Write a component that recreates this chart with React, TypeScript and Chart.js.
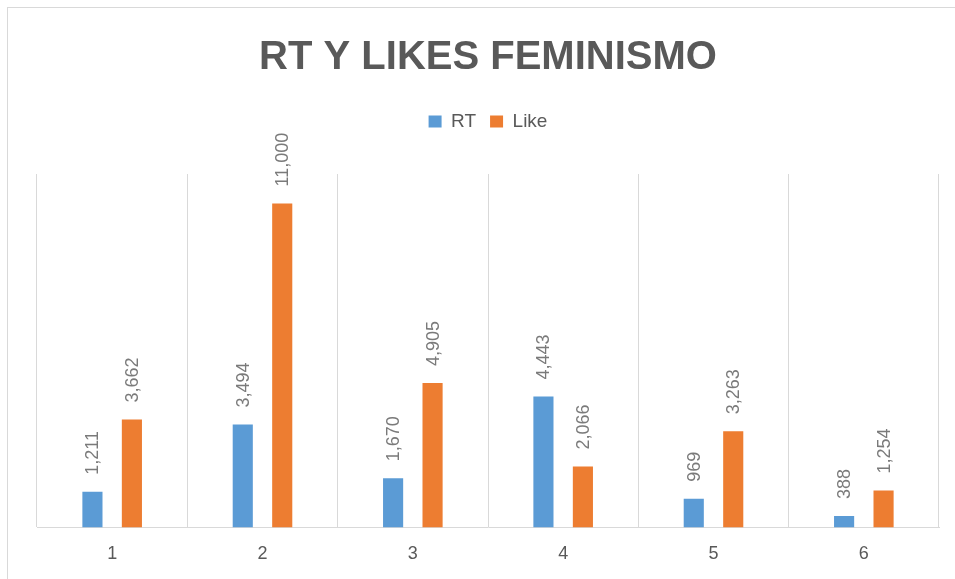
import React, { useEffect, useRef } from "react";
import { Chart, registerables } from "chart.js";

Chart.register(...registerables);

const categories = ["1", "2", "3", "4", "5", "6"];
const rtValues = [1211, 3494, 1670, 4443, 969, 388];
const likeValues = [3662, 11000, 4905, 2066, 3263, 1254];
const seriesNames = ["RT", "Like"];
const chartTitle = "RT Y LIKES FEMINISMO";

const W = 955;
const H = 579;
const LEGEND_GAP = 33;

const frameAndBg = {
  id: "frameAndBg",
  beforeDraw(chart: any) {
    const ctx = chart.ctx;
    ctx.save();
    ctx.fillStyle = "#ffffff";
    ctx.fillRect(0, 0, chart.width, chart.height);
    ctx.strokeStyle = "#d9d9d9";
    ctx.lineWidth = 1;
    ctx.strokeRect(7.5, 7.5, chart.width + 10, chart.height + 10);
    ctx.restore();
  },
};

const legendGap = {
  id: "legendGap",
  beforeInit(chart: any) {
    const legend = chart.legend;
    if (!legend) return;
    const origFit = legend.fit;
    legend.fit = function () {
      origFit.call(this);
      this.height += LEGEND_GAP;
    };
  },
};

const valueLabels = {
  id: "valueLabels",
  afterDatasetsDraw(chart: any) {
    const ctx = chart.ctx;
    ctx.save();
    ctx.font = "18px 'Liberation Sans', Arial, sans-serif";
    ctx.fillStyle = "#7a7a7a";
    ctx.textAlign = "left";
    ctx.textBaseline = "middle";
    chart.data.datasets.forEach((ds: any, di: number) => {
      const meta = chart.getDatasetMeta(di);
      meta.data.forEach((bar: any, i: number) => {
        const v = ds.data[i];
        const txt = v.toLocaleString("en-US");
        ctx.save();
        ctx.translate(bar.x + 1, bar.y - 17);
        ctx.rotate(-Math.PI / 2);
        ctx.fillText(txt, 0, 0);
        ctx.restore();
      });
    });
    ctx.restore();
  },
};

export default function App() {
  const ref = useRef<HTMLCanvasElement | null>(null);

  useEffect(() => {
    if (!ref.current) return;
    const chart = new Chart(ref.current, {
      type: "bar",
      data: {
        labels: categories,
        datasets: [
          {
            label: seriesNames[0],
            data: rtValues,
            backgroundColor: "#5B9BD5",
            categoryPercentage: 0.525,
            barPercentage: 0.51,
          },
          {
            label: seriesNames[1],
            data: likeValues,
            backgroundColor: "#ED7D31",
            categoryPercentage: 0.525,
            barPercentage: 0.51,
          },
        ],
      },
      options: {
        responsive: false,
        animation: false,
        layout: { padding: { left: 37, right: 16, top: 0, bottom: -2 } },
        plugins: {
          title: {
            display: true,
            text: chartTitle,
            color: "#595959",
            font: { family: "'Liberation Sans', Arial, sans-serif", size: 40, weight: "bold" },
            padding: { top: 34, bottom: 16 },
          },
          legend: {
            display: true,
            position: "top",
            labels: {
              color: "#595959",
              font: { family: "'Liberation Sans', Arial, sans-serif", size: 19 },
              boxWidth: 13,
              boxHeight: 12,
              padding: 14,
            },
          },
          tooltip: { enabled: false },
        },
        scales: {
          x: {
            grid: {
              display: true,
              color: "#d9d9d9",
              drawTicks: false,
              offset: true,
            },
            border: { display: true, color: "#d9d9d9", width: 1 },
            ticks: {
              color: "#595959",
              font: { family: "'Liberation Sans', Arial, sans-serif", size: 18 },
              padding: 16,
            },
          },
          y: {
            display: false,
            min: 0,
            max: 12000,
          },
        },
      },
      plugins: [frameAndBg, legendGap, valueLabels],
    });
    return () => chart.destroy();
  }, []);

  return (
    <div style={{ position: "fixed", left: 0, top: 0, width: W, height: H, background: "#fff" }}>
      <canvas ref={ref} width={W} height={H} style={{ display: "block" }} />
    </div>
  );
}
